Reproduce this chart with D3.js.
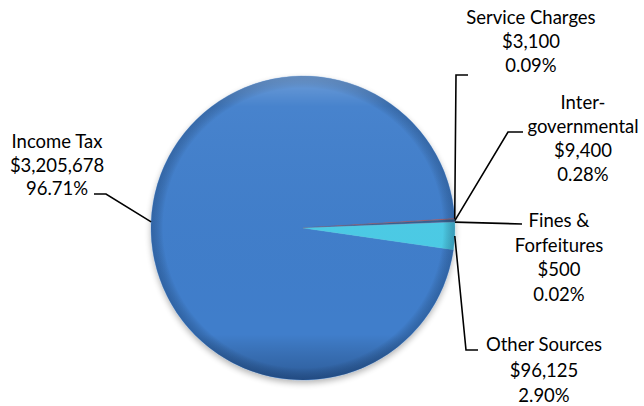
<!DOCTYPE html>
<html><head><meta charset="utf-8">
<script src="https://cdn.jsdelivr.net/npm/d3@7"></script>
<style>html,body{margin:0;padding:0;background:#fff;}svg{display:block;}</style>
</head><body>
<svg id="chart" width="644" height="406"></svg>
<script>
// ---- data ----
const categories = ["Income Tax", "Service Charges", "Intergovernmental", "Fines & Forfeitures", "Other Sources"];
const amounts = [3205678, 3100, 9400, 500, 96125];
const amountLabels = ["$3,205,678", "$3,100", "$9,400", "$500", "$96,125"];
const percentLabels = ["96.71%", "0.09%", "0.28%", "0.02%", "2.90%"];
const nameLines = [["Income Tax"], ["Service Charges"], ["Inter-", "governmental"], ["Fines &", "Forfeitures"], ["Other Sources"]];

// ---- layout / style ----
const colors = ["#3f7ecb", "#b54a4c", "#35608f", "#7a5f9e", "#4ccbe6"];
const cx = 303, cy = 228, R = 152;
const startDeg = 98.24;
const labelLayout = [
  {x: 57,  y: 141, dy: 23.5, path: [[106,194],[94,194]]},
  {x: 531, y: 16.5, dy: 24,  path: [[456,75],[468,75]]},
  {x: 583, y: 102, dy: 24,   path: [[508,132],[523,132]]},
  {x: 559, y: 220, dy: 24.5, path: [[522,224]]},
  {x: 544, y: 344, dy: 25.5, path: [[466,350],[478,350]]}
];

const svg = d3.select("#chart");
const defs = svg.append("defs");
const f = defs.append("filter").attr("id","shadow").attr("x","-20%").attr("y","-20%").attr("width","140%").attr("height","140%");
f.append("feGaussianBlur").attr("in","SourceAlpha").attr("stdDeviation",3).attr("result","b");
f.append("feOffset").attr("in","b").attr("dx",0).attr("dy",3).attr("result","o");
f.append("feComponentTransfer").attr("in","o").attr("result","o2")
  .append("feFuncA").attr("type","linear").attr("slope",0.3);
const fm = f.append("feMerge");
fm.append("feMergeNode").attr("in","o2");
fm.append("feMergeNode").attr("in","SourceGraphic");

const bevel = defs.append("radialGradient").attr("id","bevel")
  .attr("cx","50%").attr("cy","50%").attr("r","50%");
bevel.append("stop").attr("offset","0%").attr("stop-color","#000").attr("stop-opacity",0);
bevel.append("stop").attr("offset","92%").attr("stop-color","#000").attr("stop-opacity",0);
bevel.append("stop").attr("offset","100%").attr("stop-color","#0a2850").attr("stop-opacity",0.3);

const topLight = defs.append("linearGradient").attr("id","toplight").attr("x1",0).attr("y1",0).attr("x2",0).attr("y2",1);
topLight.append("stop").attr("offset","0%").attr("stop-color","#fff").attr("stop-opacity",0.25);
topLight.append("stop").attr("offset","10%").attr("stop-color","#fff").attr("stop-opacity",0.04);
topLight.append("stop").attr("offset","85%").attr("stop-color","#000").attr("stop-opacity",0);
topLight.append("stop").attr("offset","100%").attr("stop-color","#001030").attr("stop-opacity",0.3);

const pie = d3.pie().sort(null).value(d => d)
  .startAngle(startDeg * Math.PI/180).endAngle(startDeg * Math.PI/180 + 2*Math.PI);
const arcs = pie(amounts);
const arc = d3.arc().innerRadius(0).outerRadius(R);

const g = svg.append("g").attr("transform", `translate(${cx},${cy})`);
const pg = g.append("g").attr("filter","url(#shadow)");
pg.selectAll("path.slice").data(arcs).enter().append("path")
  .attr("class","slice")
  .attr("d", arc)
  .attr("fill", (d,i) => colors[i])
  .attr("stroke", (d,i) => colors[i])
  .attr("stroke-width", 0.3);
g.append("circle").attr("r", R).attr("fill","url(#bevel)");
g.append("circle").attr("r", R).attr("fill","url(#toplight)");

// leader lines
arcs.forEach((d,i) => {
  const a = (d.startAngle + d.endAngle)/2;
  const ax = cx + R*Math.sin(a), ay = cy - R*Math.cos(a);
  const pts = [[ax,ay]].concat(labelLayout[i].path);
  svg.append("path")
    .attr("d", d3.line()(pts))
    .attr("fill","none").attr("stroke","#000").attr("stroke-width",1.6);
});

// labels
categories.forEach((c,i) => {
  const L = labelLayout[i];
  const lines = nameLines[i].concat([amountLabels[i], percentLabels[i]]);
  const t = svg.append("text")
    .attr("text-anchor","middle")
    .attr("font-family","Lato, 'Open Sans', sans-serif")
    .attr("font-size","18.5px")
    .attr("fill","#000");
  lines.forEach((ln,k) => {
    t.append("tspan").attr("x", L.x).attr("y", L.y + k*L.dy)
      .attr("dominant-baseline","central").text(ln);
  });
});
</script>
</body></html>
